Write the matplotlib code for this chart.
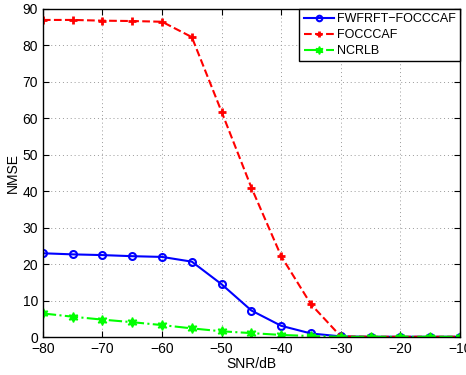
import numpy as np
import matplotlib.pyplot as plt

plt.rcParams['font.family'] = ['Liberation Sans', 'DejaVu Sans']
plt.rcParams['font.size'] = 10

snr = [-80, -75, -70, -65, -60, -55, -50, -45, -40, -35, -30, -25, -20, -15, -10]
fwfrft = [23.0, 22.7, 22.5, 22.2, 22.0, 20.7, 14.5, 7.3, 3.1, 1.0, 0.2, 0.1, 0.1, 0.1, 0.1]
focccaf = [87.0, 87.0, 86.8, 86.7, 86.5, 82.3, 61.8, 41.0, 22.2, 9.0, 0.2, 0.1, 0.1, 0.1, 0.1]
ncrlb = [6.5, 5.6, 4.8, 4.1, 3.3, 2.4, 1.6, 1.1, 0.6, 0.3, 0.1, 0.1, 0.1, 0.1, 0.1]

fig = plt.figure(figsize=(4.66, 3.75), dpi=100)
ax = fig.add_axes([0.092, 0.101, 0.895, 0.875])

ax.plot(snr, fwfrft, '-o', color='blue', lw=1.5, ms=5, mfc='none', mew=1.5,
        label='FWFRFT\u2212FOCCCAF')
ax.plot(snr, focccaf, '--+', color='red', lw=1.5, ms=6, mew=2, label='FOCCCAF')
ax.plot(snr, ncrlb, '-.', marker=(6, 1, 0), color='#00ff00', lw=1.5, ms=7, mew=1,
        label='NCRLB')

ax.set_xlim(-80, -10)
ax.set_ylim(0, 90)
ax.set_xticks(range(-80, -9, 10))
ax.set_yticks(range(0, 91, 10))
ax.xaxis.set_major_formatter(plt.FuncFormatter(lambda v, p: f'{int(v)}'.replace('-', '\u2212')))
ax.grid(True, linestyle=(0, (1, 3)), color='#999999', lw=0.7)
ax.tick_params(direction='in', top=True, right=True, length=4)
for s in ax.spines.values():
    s.set_linewidth(1)
ax.set_xlabel('SNR/dB', labelpad=1)
ax.set_ylabel('NMSE', labelpad=2)

leg = ax.legend(loc='upper right', fancybox=False, edgecolor='black', framealpha=1,
                fontsize=9, borderaxespad=0, handlelength=2.4, handletextpad=0.25,
                borderpad=0.35, labelspacing=0.3, markerscale=0.8)
leg.get_frame().set_linewidth(1)

fig.savefig('out.png')
